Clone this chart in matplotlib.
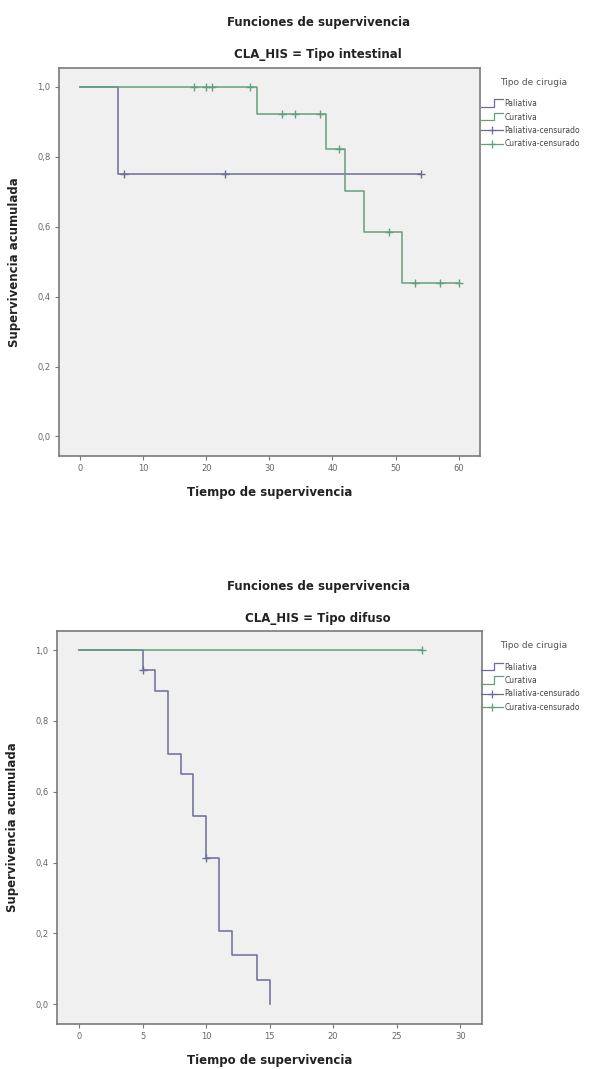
import numpy as np
import matplotlib
matplotlib.use("Agg")
import matplotlib.pyplot as plt
from matplotlib.lines import Line2D

# ---------------- data ----------------
# Tipo intestinal
pal_int_x = [0, 6, 54]
pal_int_y = [1.0, 0.75, 0.75]
pal_int_cens = [7, 23, 54]
cur_int_x = [0, 28, 39, 42, 45, 51, 60]
cur_int_y = [1.0, 0.923, 0.821, 0.703, 0.586, 0.440, 0.440]
cur_int_cens = [18, 20, 21, 27, 32, 34, 38, 41, 49, 53, 57, 60]

# Tipo difuso
pal_dif_x = [0, 5, 6, 7, 8, 9, 10, 11, 12, 14, 15]
pal_dif_y = [1.0, 0.944, 0.885, 0.708, 0.649, 0.531, 0.413, 0.207, 0.138, 0.069, 0.0]
pal_dif_cens = [5, 10]
cur_dif_x = [0, 27]
cur_dif_y = [1.0, 1.0]
cur_dif_cens = [27]

yticks = [0.0, 0.2, 0.4, 0.6, 0.8, 1.0]
ytick_labels = ["0,0", "0,2", "0,4", "0,6", "0,8", "1,0"]
xticks_int = [0, 10, 20, 30, 40, 50, 60]
xticks_dif = [0, 5, 10, 15, 20, 25, 30]

legend_title = "Tipo de cirugia"
legend_labels = ["Paliativa", "Curativa", "Paliativa-censurado", "Curativa-censurado"]

C_PAL = "#6c6c98"
C_CUR = "#62a07c"

def step_value(xs, ys, t):
    i = np.searchsorted(xs, t, side="right") - 1
    return ys[max(i, 0)]

fig = plt.figure(figsize=(6.06, 10.69), dpi=100)
fig.patch.set_facecolor("white")

def panel(rect, sx, sy, scens, cx, cy, ccens, xticks, xlim, subtitle, ty1, ty2, leg_y):
    ax = fig.add_axes(rect)
    ax.set_facecolor("#f0f0f0")
    ax.step(sx, sy, where="post", color=C_PAL, lw=1.1, zorder=3)
    ax.step(cx, cy, where="post", color=C_CUR, lw=1.1, zorder=3)
    ax.plot(scens, [step_value(sx, sy, t) for t in scens], ls="none", marker="+",
            ms=6, mew=1.0, color=C_PAL, zorder=4)
    ax.plot(ccens, [step_value(cx, cy, t) for t in ccens], ls="none", marker="+",
            ms=6, mew=1.0, color=C_CUR, zorder=4)
    ax.set_xlim(*xlim)
    ax.set_ylim(-0.056, 1.054)
    ax.set_yticks(yticks)
    ax.set_yticklabels(ytick_labels)
    ax.set_xticks(xticks)
    ax.tick_params(direction="out", length=3, width=0.8, colors="#777777",
                   labelsize=6, labelcolor="#666666", pad=3)
    for s in ax.spines.values():
        s.set_color("#7a7a7a")
        s.set_linewidth(1.2)
    ax.set_xlabel("Tiempo de supervivencia", fontsize=8.5, fontweight="bold",
                  color="#222222", labelpad=9)
    ax.set_ylabel("Supervivencia acumulada", fontsize=8.5, fontweight="bold",
                  color="#222222", labelpad=12)
    fig.text(0.525, ty1, "Funciones de supervivencia", ha="center", va="center",
             fontsize=8.5, fontweight="bold", color="#222222")
    fig.text(0.525, ty2, subtitle, ha="center", va="center",
             fontsize=8.5, fontweight="bold", color="#222222")
    # legend
    fig.text(0.825, leg_y, legend_title, ha="left", va="center", fontsize=6.5, color="#555555")
    dy = 0.0125
    x0, x1, x2 = 0.793, 0.815, 0.830
    cols = [C_PAL, C_CUR, C_PAL, C_CUR]
    for k, (lab, col) in enumerate(zip(legend_labels, cols)):
        yy = leg_y - 0.020 - k * dy
        if k < 2:
            fig.add_artist(Line2D([x0, x1, x1, x2], [yy - 0.003, yy - 0.003, yy + 0.004, yy + 0.004],
                                  transform=fig.transFigure, color=col, lw=0.9))
        else:
            fig.add_artist(Line2D([x0, x2], [yy, yy], transform=fig.transFigure, color=col, lw=0.9))
            fig.add_artist(Line2D([(x0 + x2) / 2], [yy], transform=fig.transFigure, color=col,
                                  marker="+", ms=6, mew=0.9, ls="none"))
        fig.text(x2 + 0.002, yy, lab, ha="left", va="center", fontsize=5.5, color="#444444")
    return ax

panel([0.0974, 0.5734, 0.695, 0.363], pal_int_x, pal_int_y, pal_int_cens,
      cur_int_x, cur_int_y, cur_int_cens, xticks_int, (-3.3, 63.4),
      "CLA_HIS = Tipo intestinal", 0.9785, 0.9486, 0.923)
panel([0.094, 0.0421, 0.701, 0.3676], pal_dif_x, pal_dif_y, pal_dif_cens,
      cur_dif_x, cur_dif_y, cur_dif_cens, xticks_dif, (-1.74, 31.7),
      "CLA_HIS = Tipo difuso", 0.451, 0.421, 0.396)

fig.savefig("out.png", dpi=100, facecolor="white")
